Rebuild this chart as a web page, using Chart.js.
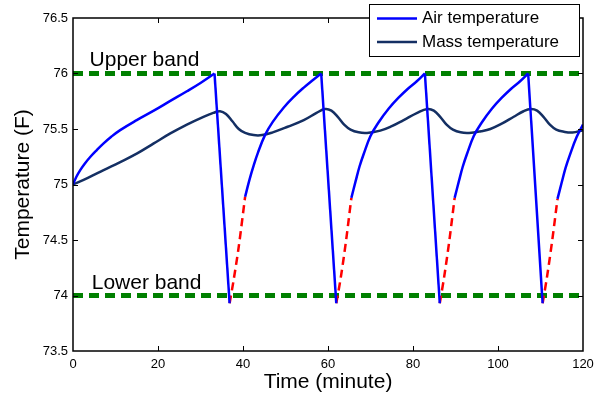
<!DOCTYPE html>
<html>
<head>
<meta charset="utf-8">
<script src="https://cdn.jsdelivr.net/npm/chart.js@4.4.1/dist/chart.umd.min.js"></script>
<style>
  html, body { margin: 0; padding: 0; background: #fff; }
</style>
</head>
<body>
<canvas id="temps" width="608" height="399"></canvas>
<script>
// time (minute) , temperature (F)

// blue rising parts of the air temperature, one list per cycle
const airRising = [
  [[0, 75], [0.8, 75.07], [1.7, 75.13], [2.8, 75.19], [4.1, 75.25], [5.6, 75.31], [7.2, 75.37], [9, 75.43],
   [11.1, 75.49], [15, 75.58], [19, 75.665], [23, 75.755], [26.8, 75.84], [30, 75.915], [33.3, 76]],
  [[40.5, 74.89], [41.5, 75.04], [42.5, 75.17], [43.5, 75.285], [45.2, 75.447], [47, 75.564], [49.6, 75.694],
   [52, 75.792], [54.3, 75.873], [56.4, 75.94], [58.4, 76]],
  [[65.5, 74.88], [66.5, 75.03], [67.4, 75.16], [68.4, 75.275], [70, 75.437], [71.8, 75.554], [74.3, 75.684],
   [76.6, 75.782], [78.8, 75.863], [80.9, 75.93], [82.8, 76]],
  [[89.8, 74.88], [90.8, 75.03], [91.7, 75.16], [92.7, 75.275], [94.3, 75.437], [96.1, 75.554], [98.6, 75.684],
   [100.9, 75.782], [103.1, 75.863], [105.2, 75.93], [107.1, 76]],
  [[114, 74.87], [115, 75.02], [115.9, 75.15], [116.9, 75.265], [118.5, 75.427], [120, 75.54]]
];

// fast drops when the unit switches
const airDrops = [
  [[33.3, 76], [36.85, 73.93]],
  [[58.4, 76], [61.95, 73.93]],
  [[82.8, 76], [86.3, 73.93]],
  [[107.1, 76], [110.5, 73.93]]
];

// red dashed recovery just after each drop
const airRecovery = [
  [[36.85, 73.93], [37.8, 74.14], [39, 74.44], [40.5, 74.89]],
  [[61.95, 73.93], [63, 74.16], [64.2, 74.48], [65.5, 74.88]],
  [[86.3, 73.93], [87.3, 74.16], [88.5, 74.48], [89.8, 74.88]],
  [[110.5, 73.93], [111.5, 74.16], [112.7, 74.48], [114, 74.87]]
];

const massTemp = [
  [0, 75], [3.5, 75.06], [7.2, 75.13], [11, 75.2], [15.1, 75.28], [19, 75.37], [22.9, 75.46], [26.8, 75.54],
  [30.7, 75.61], [33, 75.645], [34.6, 75.66], [36, 75.635], [37.5, 75.57], [39, 75.5], [40.5, 75.465],
  [42.5, 75.445], [44.5, 75.445], [47, 75.47], [50.5, 75.52], [54.3, 75.58], [57.3, 75.645], [59.3, 75.68],
  [60.8, 75.665], [62.3, 75.61], [63.8, 75.54], [65.3, 75.495], [67.2, 75.47], [69.2, 75.465], [72.3, 75.485],
  [75, 75.525], [77.8, 75.58], [81, 75.645], [83.4, 75.68], [84.9, 75.665], [86.4, 75.61], [87.9, 75.54],
  [89.4, 75.495], [91.2, 75.47], [93.2, 75.465], [96, 75.48], [98.2, 75.5], [101, 75.55], [103.7, 75.61],
  [106, 75.66], [107.7, 75.68], [109.2, 75.665], [110.7, 75.61], [112.2, 75.54], [113.7, 75.495],
  [115.5, 75.475], [117.5, 75.468], [120, 75.49]
];

const upperBand = 76;
const lowerBand = 74;
const timeRange = [0, 120];

const xTicks = [0, 20, 40, 60, 80, 100, 120];
const yTicks = [73.5, 74, 74.5, 75, 75.5, 76, 76.5];

const seriesNames = ['Air temperature', 'Mass temperature'];
const bandNames = ['Upper band', 'Lower band'];

const AIR = '#0000ff';
const MASS = '#142f63';
const pts = arr => arr.map(p => ({ x: p[0], y: p[1] }));

const FONT = "'Liberation Sans', Arial, Helvetica, sans-serif";
Chart.defaults.font.family = FONT;
Chart.defaults.color = '#000';

const datasets = [];
airRising.forEach((seg, i) => datasets.push({
  label: i === 0 ? seriesNames[0] : '', data: pts(seg), showLine: true,
  borderColor: AIR, borderWidth: 2.5, tension: 0.4, pointRadius: 0, order: 1
}));
airDrops.forEach(seg => datasets.push({
  label: '', data: pts(seg), showLine: true,
  borderColor: AIR, borderWidth: 2.5, tension: 0, pointRadius: 0, order: 1
}));
airRecovery.forEach(seg => datasets.push({
  label: '', data: pts(seg), showLine: true,
  borderColor: '#ff0000', borderWidth: 2.5, borderDash: [8, 5], tension: 0.3, pointRadius: 0, order: 1
}));
datasets.push({
  label: seriesNames[1], data: pts(massTemp), showLine: true,
  borderColor: MASS, borderWidth: 2.5, tension: 0.4, pointRadius: 0, order: 2
});
[upperBand, lowerBand].forEach((b, i) => datasets.push({
  label: bandNames[i], data: timeRange.map(t => ({ x: t, y: b })), showLine: true,
  borderColor: '#008000', borderWidth: 5, borderDash: [10, 6], pointRadius: 0, order: 3
}));

const framePlugin = {
  id: 'frame',
  afterDatasetsDraw(chart) {
    const { ctx, chartArea: a, scales } = chart;
    ctx.save();
    ctx.strokeStyle = '#000';
    ctx.lineWidth = 1.5;
    ctx.strokeRect(a.left, a.top, a.right - a.left, a.bottom - a.top);
    ctx.lineWidth = 1;
    ctx.beginPath();
    xTicks.slice(1, -1).forEach(v => {
      const x = Math.round(scales.x.getPixelForValue(v)) + 0.5;
      ctx.moveTo(x, a.bottom); ctx.lineTo(x, a.bottom - 5);
      ctx.moveTo(x, a.top); ctx.lineTo(x, a.top + 5);
    });
    yTicks.slice(1, -1).forEach(v => {
      const y = Math.round(scales.y.getPixelForValue(v)) + 0.5;
      ctx.moveTo(a.left, y); ctx.lineTo(a.left + 5, y);
      ctx.moveTo(a.right, y); ctx.lineTo(a.right - 5, y);
    });
    ctx.stroke();

    // band labels
    ctx.fillStyle = '#000';
    ctx.font = '21px ' + FONT;
    ctx.textBaseline = 'alphabetic';
    ctx.fillText(bandNames[0], scales.x.getPixelForValue(3.9), scales.y.getPixelForValue(76.07));
    ctx.fillText(bandNames[1], scales.x.getPixelForValue(4.4), scales.y.getPixelForValue(74.06));
    ctx.restore();
  },
  afterDraw(chart) {
    const { ctx } = chart;
    const items = [[seriesNames[0], AIR], [seriesNames[1], MASS]];
    ctx.save();
    ctx.fillStyle = '#fff';
    ctx.fillRect(369.5, 4.5, 210, 52);
    ctx.strokeStyle = '#000';
    ctx.lineWidth = 1;
    ctx.strokeRect(369.5, 4.5, 210, 52);
    ctx.font = '17px ' + FONT;
    ctx.textBaseline = 'middle';
    items.forEach(([name, color], i) => {
      const y = 18.5 + i * 23.5;
      ctx.strokeStyle = color;
      ctx.lineWidth = 2.5;
      ctx.beginPath();
      ctx.moveTo(377, y); ctx.lineTo(417, y);
      ctx.stroke();
      ctx.fillStyle = '#000';
      ctx.fillText(name, 422, y);
    });
    ctx.restore();
  }
};

new Chart(document.getElementById('temps'), {
  type: 'scatter',
  data: { datasets },
  options: {
    responsive: false,
    animation: false,
    layout: { padding: { left: 0, right: 25, top: 18, bottom: 0 } },
    plugins: { legend: { display: false }, tooltip: { enabled: false } },
    scales: {
      x: {
        type: 'linear', min: 0, max: 120,
        afterBuildTicks: s => { s.ticks = xTicks.map(v => ({ value: v })); },
        afterFit: s => { s.height = 48; },
        grid: { display: false, drawTicks: false }, border: { display: false },
        ticks: { color: '#000', font: { size: 13 }, padding: 6, maxRotation: 0 },
        title: { display: true, text: 'Time (minute)', color: '#000', font: { size: 21 }, padding: { top: 0, bottom: 4 } }
      },
      y: {
        type: 'linear', min: 73.5, max: 76.5,
        afterBuildTicks: s => { s.ticks = yTicks.map(v => ({ value: v })); },
        afterFit: s => { s.width = 73; },
        grid: { display: false, drawTicks: false }, border: { display: false },
        ticks: { color: '#000', font: { size: 13 }, padding: 5, callback: v => String(v) },
        title: { display: true, text: 'Temperature (F)', color: '#000', font: { size: 21 }, padding: { top: 11, bottom: 0 } }
      }
    }
  },
  plugins: [framePlugin]
});
</script>
</body>
</html>
